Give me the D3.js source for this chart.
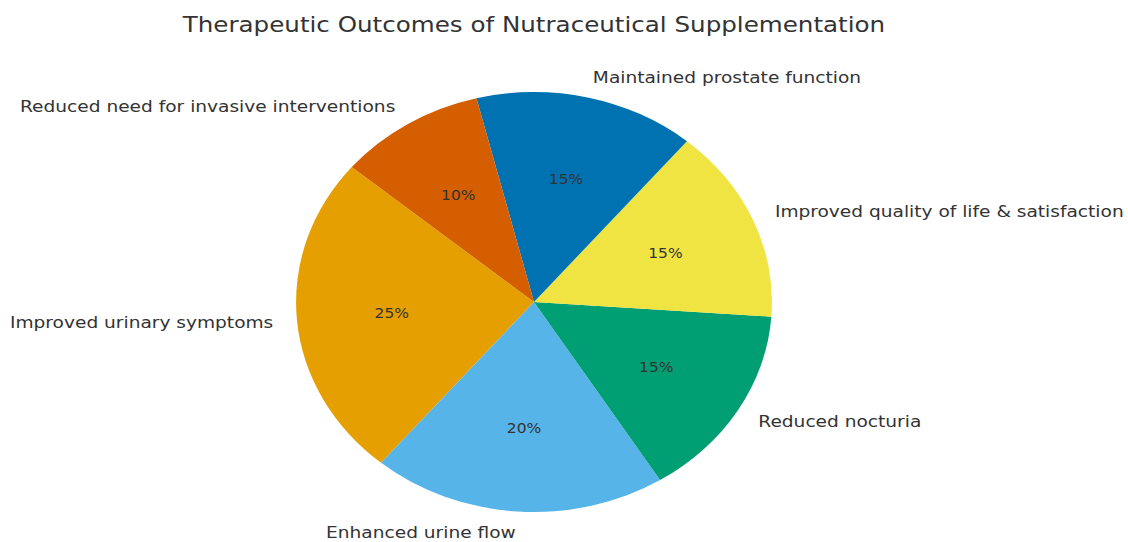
<!DOCTYPE html>
<html><head><meta charset="utf-8">
<script src="https://cdn.jsdelivr.net/npm/d3@7"></script>
<style>body{margin:0;background:#fff}svg{display:block}text{font-family:"DejaVu Sans",sans-serif;fill:#333}</style>
</head><body>
<svg id="c" width="1128" height="542"></svg>
<script>
const categories = ["Improved urinary symptoms","Enhanced urine flow","Reduced nocturia","Improved quality of life & satisfaction","Maintained prostate function","Reduced need for invasive interventions"];
const values = [25,20,15,15,15,10];
const colors = ["#E69F00","#56B4E9","#009E73","#F0E442","#0072B2","#D55E00"];
const title = "Therapeutic Outcomes of Nutraceutical Supplementation";

const W=1128,H=542, sx=1.133;
const svg=d3.select("#c");
svg.append("text").attr("x",534).attr("y",24).attr("text-anchor","middle").attr("dominant-baseline","central")
  .style("font-size","21.7px").attr("transform",`translate(534,0) scale(${sx},1) translate(-534,0)`).text(title);

const cx=534/sx, cy=302, r=210;
const g=svg.append("g").attr("transform",`scale(${sx},1) translate(${cx},${cy})`);
const startDeg=140;
const pie=d3.pie().sort(null).value(d=>d)
  .startAngle((90-startDeg)*Math.PI/180).endAngle((90-startDeg-360)*Math.PI/180);
const arcs=pie(values);
const arc=d3.arc().innerRadius(0).outerRadius(r);
g.selectAll("path").data(arcs).join("path").attr("d",arc).attr("fill",(d,i)=>colors[i]);
function pos(d,k){const a=(d.startAngle+d.endAngle)/2; return [k*r*Math.sin(a), -k*r*Math.cos(a)];}
g.selectAll("text.lab").data(arcs).join("text").attr("class","lab")
  .attr("x",d=>pos(d,1.1)[0]).attr("y",d=>pos(d,1.1)[1])
  .attr("text-anchor",d=>pos(d,1.1)[0]>=0?"start":"end").attr("dominant-baseline","central")
  .style("font-size","16.4px").text((d,i)=>categories[i]);
g.selectAll("text.pct").data(arcs).join("text").attr("class","pct")
  .attr("x",d=>pos(d,0.6)[0]).attr("y",d=>pos(d,0.6)[1])
  .attr("text-anchor","middle").attr("dominant-baseline","central")
  .style("font-size","13.7px").text((d,i)=>values[i]+"%");
</script>
</body></html>
